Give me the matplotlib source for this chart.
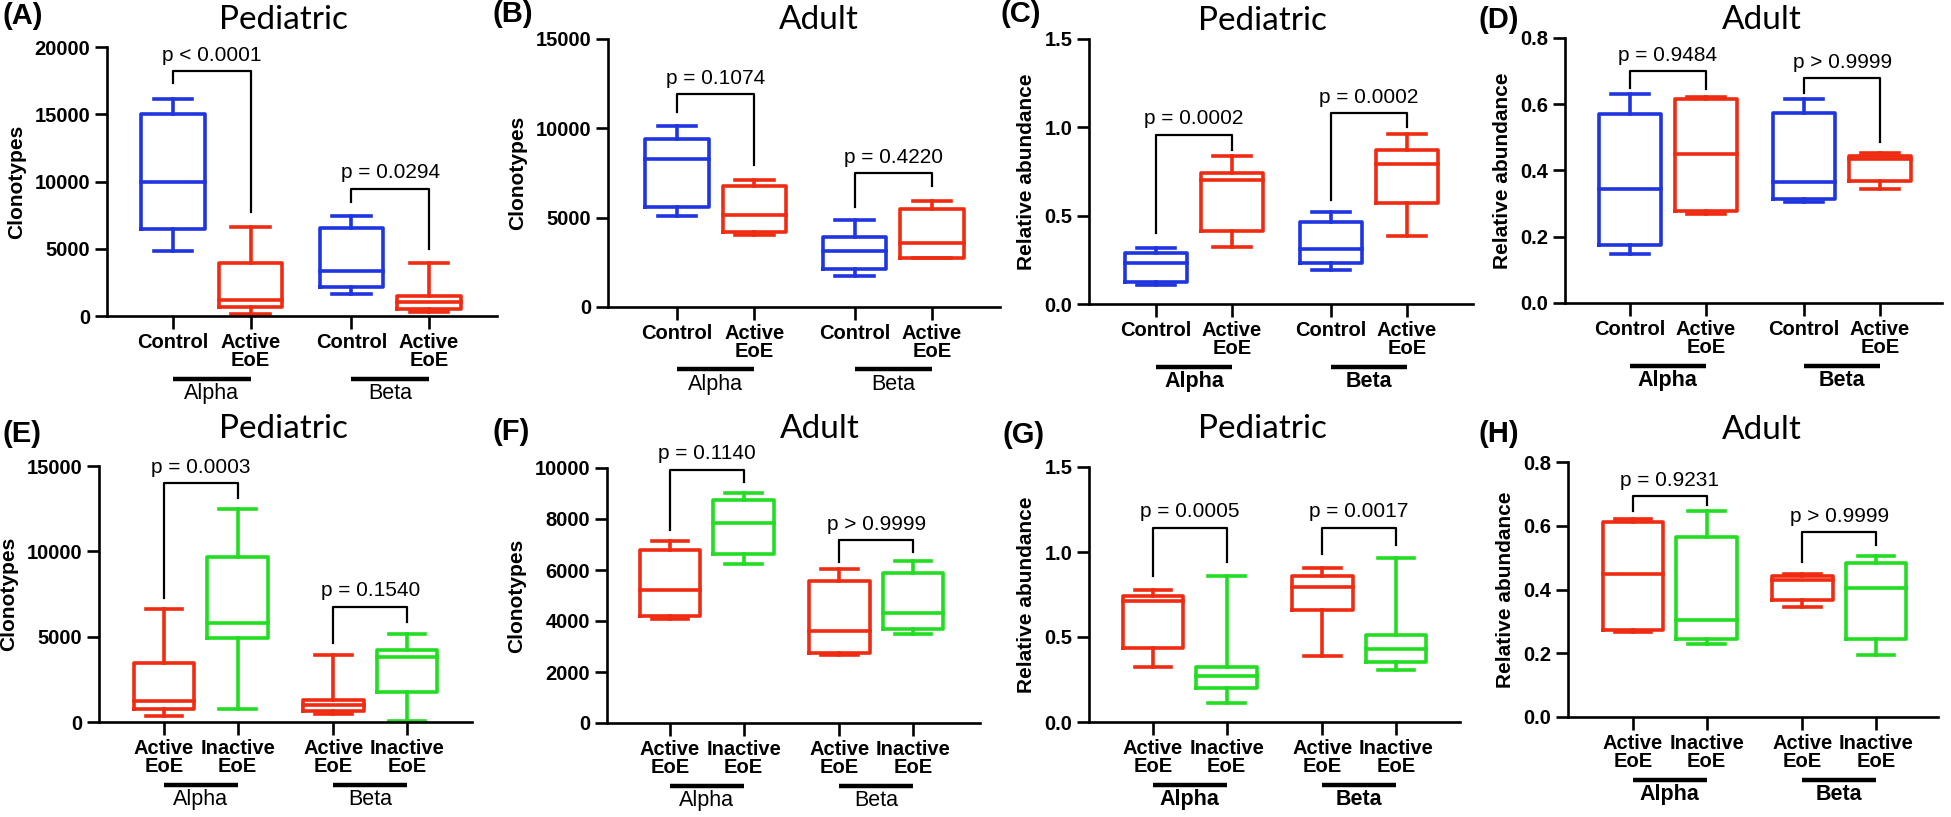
import matplotlib
matplotlib.use('Agg')
import matplotlib.pyplot as plt
from matplotlib.transforms import offset_copy

plt.rcParams['font.family'] = ['Liberation Sans', 'DejaVu Sans']

BLUE = '#1f35e0'
RED = '#ef2b12'
GREEN = '#22dd22'

W, H = 1951, 817

# categories
GROUPS = ['Alpha', 'Beta']
CATS_CTRL = ['Control', 'Active\nEoE']
CATS_ACT = ['Active\nEoE', 'Inactive\nEoE']

# box stats (min, q1, median, q3, max): Alpha-1, Alpha-2, Beta-1, Beta-2
stats_A = [(4830, 6450, 10000, 15000, 16100), (170, 670, 1160, 3940, 6600),
           (1660, 2160, 3320, 6540, 7430), (300, 550, 1040, 1490, 3940)]
stats_B = [(5100, 5600, 8260, 9400, 10120), (4020, 4200, 5170, 6760, 7100),
           (1720, 2150, 3140, 3920, 4860), (2750, 2760, 3590, 5510, 5940)]
stats_C = [(0.108, 0.127, 0.23, 0.287, 0.316), (0.32, 0.414, 0.70, 0.74, 0.84),
           (0.193, 0.234, 0.31, 0.463, 0.523), (0.385, 0.57, 0.79, 0.869, 0.962)]
stats_D = [(0.147, 0.175, 0.345, 0.570, 0.632), (0.268, 0.279, 0.449, 0.616, 0.622),
           (0.304, 0.314, 0.364, 0.573, 0.617), (0.345, 0.368, 0.434, 0.444, 0.452)]
stats_E = [(350, 780, 1210, 3460, 6650), (740, 4930, 5830, 9640, 12500),
           (450, 630, 980, 1270, 3950), (60, 1760, 3810, 4200, 5180)]
stats_F = [(4070, 4190, 5200, 6800, 7130), (6230, 6610, 7860, 8760, 9020),
           (2670, 2760, 3620, 5570, 6020), (3500, 3680, 4300, 5890, 6360)]
stats_G = [(0.324, 0.437, 0.71, 0.739, 0.775), (0.112, 0.2, 0.27, 0.324, 0.859),
           (0.388, 0.657, 0.794, 0.859, 0.908), (0.304, 0.353, 0.431, 0.514, 0.965)]
stats_H = [(0.266, 0.274, 0.449, 0.612, 0.622), (0.229, 0.246, 0.303, 0.564, 0.647),
           (0.344, 0.366, 0.431, 0.441, 0.45), (0.194, 0.245, 0.405, 0.483, 0.504)]

pvals_A = ['p < 0.0001', 'p = 0.0294']
pvals_B = ['p = 0.1074', 'p = 0.4220']
pvals_C = ['p = 0.0002', 'p = 0.0002']
pvals_D = ['p = 0.9484', 'p > 0.9999']
pvals_E = ['p = 0.0003', 'p = 0.1540']
pvals_F = ['p = 0.1140', 'p > 0.9999']
pvals_G = ['p = 0.0005', 'p = 0.0017']
pvals_H = ['p = 0.9231', 'p > 0.9999']

POS = [0, 1, 2.3, 3.3]

# layout in pixels: L, R, top, bottom, first tick x, last tick x
panels = [
    dict(tag='(A)', tagxy=(2, 24), title='Pediatric', titlexy=(283, 29), geo=(107, 497, 47, 316, 173, 429),
         stats=stats_A, p=pvals_A, cats=CATS_CTRL, cols=[BLUE, RED, BLUE, RED], ylab='Clonotypes',
         ymax=20000, step=5000, fmt='{:.0f}', gbold=False,
         brk=[(18200, 17300, 7700), (9470, 8500, 5000)]),
    dict(tag='(B)', tagxy=(492, 22), title='Adult', titlexy=(819, 29), geo=(608, 1000, 39, 307, 677, 932),
         stats=stats_B, p=pvals_B, cats=CATS_CTRL, cols=[BLUE, RED, BLUE, RED], ylab='Clonotypes',
         ymax=15000, step=5000, fmt='{:.0f}', gbold=False,
         brk=[(11900, 10900, 7940), (7500, 5600, 6800)]),
    dict(tag='(C)', tagxy=(1000, 22), title='Pediatric', titlexy=(1262, 30), geo=(1089, 1473, 39, 304, 1156, 1407),
         stats=stats_C, p=pvals_C, cats=CATS_CTRL, cols=[BLUE, RED, BLUE, RED], ylab='Relative abundance',
         ymax=1.5, step=0.5, fmt='{:.1f}', gbold=True,
         brk=[(0.958, 0.40, 0.873), (1.08, 0.589, 1.0)]),
    dict(tag='(D)', tagxy=(1478, 28), title='Adult', titlexy=(1762, 29), geo=(1565, 1942, 38, 303, 1630, 1880),
         stats=stats_D, p=pvals_D, cats=CATS_CTRL, cols=[BLUE, RED, BLUE, RED], ylab='Relative abundance',
         ymax=0.8, step=0.2, fmt='{:.1f}', gbold=True,
         brk=[(0.70, 0.649, 0.646), (0.679, 0.634, 0.487)]),
    dict(tag='(E)', tagxy=(2, 442), title='Pediatric', titlexy=(283, 438), geo=(99, 472, 466, 722, 164, 407),
         stats=stats_E, p=pvals_E, cats=CATS_ACT, cols=[RED, GREEN, RED, GREEN], ylab='Clonotypes',
         ymax=15000, step=5000, fmt='{:.0f}', gbold=False,
         brk=[(14000, 7240, 13100), (6750, 4600, 5870)]),
    dict(tag='(F)', tagxy=(492, 440), title='Adult', titlexy=(820, 438), geo=(607, 980, 468, 723, 670, 913),
         stats=stats_F, p=pvals_F, cats=CATS_ACT, cols=[RED, GREEN, RED, GREEN], ylab='Clonotypes',
         ymax=10000, step=2000, fmt='{:.0f}', gbold=False,
         brk=[(9930, 7560, 9450), (7170, 6320, 6710)]),
    dict(tag='(G)', tagxy=(1002, 443), title='Pediatric', titlexy=(1262, 438), geo=(1089, 1460, 467, 722, 1153, 1396),
         stats=stats_G, p=pvals_G, cats=CATS_ACT, cols=[RED, GREEN, RED, GREEN], ylab='Relative abundance',
         ymax=1.5, step=0.5, fmt='{:.1f}', gbold=True,
         brk=[(1.143, 0.857, 0.941), (1.143, 0.99, 1.04)]),
    dict(tag='(H)', tagxy=(1478, 442), title='Adult', titlexy=(1762, 439), geo=(1568, 1938, 462, 717, 1633, 1876),
         stats=stats_H, p=pvals_H, cats=CATS_ACT, cols=[RED, GREEN, RED, GREEN], ylab='Relative abundance',
         ymax=0.8, step=0.2, fmt='{:.1f}', gbold=True,
         brk=[(0.692, 0.645, 0.666), (0.58, 0.485, 0.54)]),
]

fig = plt.figure(figsize=(W / 100, H / 100), dpi=100)

for pn in panels:
    L, R, T, B, t0, t3 = pn['geo']
    ax = fig.add_axes([L / W, 1 - B / H, (R - L) / W, (B - T) / H])
    unit = (t3 - t0) / POS[-1]
    ax.set_xlim((L - t0) / unit, (R - t0) / unit)
    ax.set_ylim(0, pn['ymax'])

    # boxes
    for x, st, col in zip(POS, pn['stats'], pn['cols']):
        d = dict(whislo=st[0], q1=st[1], med=st[2], q3=st[3], whishi=st[4])
        lp = dict(color=col, lw=2.6, solid_capstyle='projecting')
        ax.bxp([d], positions=[x], widths=0.82, capwidths=0.5, showfliers=False,
               boxprops=lp, medianprops=lp, whiskerprops=lp, capprops=lp, manage_ticks=False)

    # significance brackets
    for i, (top, lo1, lo2) in enumerate(pn['brk']):
        x1, x2 = POS[2 * i], POS[2 * i + 1]
        ax.plot([x1, x1, x2, x2], [lo1, top, top, lo2], color='black', lw=1.6, clip_on=False)
        ax.annotate(pn['p'][i], xy=((x1 + x2) / 2, top), xytext=(0, 7.5), textcoords='offset points',
                    ha='center', va='baseline', fontsize=15, annotation_clip=False)

    # axes styling
    for s in ['top', 'right']:
        ax.spines[s].set_visible(False)
    for s in ['left', 'bottom']:
        ax.spines[s].set_linewidth(1.9)
    ticks = []
    v = 0
    while v <= pn['ymax'] + 1e-9:
        ticks.append(v)
        v += pn['step']
    ax.set_yticks(ticks)
    ax.set_yticklabels([pn['fmt'].format(t) for t in ticks], fontweight='bold', fontsize=14.5)
    ax.set_xticks(POS)
    ax.set_xticklabels(pn['cats'] * 2, fontweight='bold', fontsize=14.5, linespacing=0.95)
    ax.tick_params(axis='both', width=1.9, length=9, pad=3)
    ax.set_ylabel(pn['ylab'], fontweight='bold', fontsize=15, labelpad=6)

    # group underline and names
    tr_line = offset_copy(ax.get_xaxis_transform(), fig=fig, y=-45, units='points')
    tr_text = offset_copy(ax.get_xaxis_transform(), fig=fig, y=-56, units='points')
    for i, g in enumerate(GROUPS):
        x1, x2 = POS[2 * i], POS[2 * i + 1]
        ax.plot([x1, x2], [0, 0], color='black', lw=3.2, transform=tr_line, clip_on=False,
                solid_capstyle='butt')
        ax.text((x1 + x2) / 2, 0, g, transform=tr_text, ha='center', va='center', fontsize=15.5,
                fontweight='bold' if pn['gbold'] else 'normal')

    fig.text(pn['titlexy'][0] / W, 1 - pn['titlexy'][1] / H, pn['title'], family=['Lato', 'DejaVu Sans'],
             fontsize=24, ha='center', va='baseline')
    fig.text(pn['tagxy'][0] / W, 1 - pn['tagxy'][1] / H, pn['tag'], fontweight='bold', fontsize=21,
             ha='left', va='baseline')

fig.savefig('out.png', dpi=100)
